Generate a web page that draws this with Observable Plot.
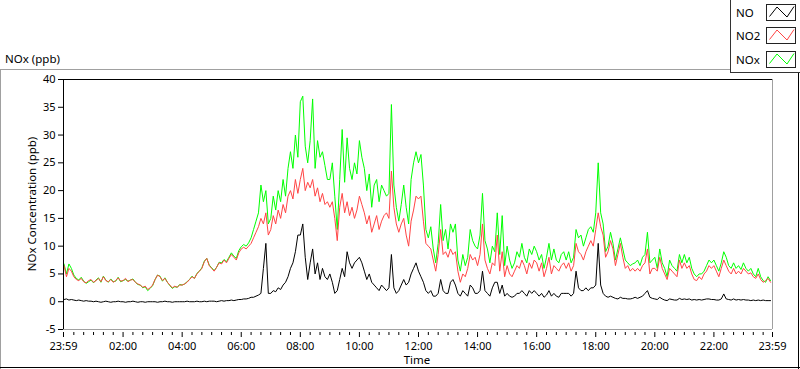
<!DOCTYPE html>
<html><head><meta charset="utf-8">
<script src="https://cdn.jsdelivr.net/npm/d3@7"></script>
<script src="https://cdn.jsdelivr.net/npm/@observablehq/plot@0.6"></script>
<style>
html,body{margin:0;padding:0;background:#fff;}
#chart{position:relative;width:800px;height:369px;overflow:hidden;}
</style></head><body><div id="chart"></div>
<script>
// 5-minute samples from 00:00 to 23:55
const timeStepMinutes = 5;

const no2 = [
 6.5,4.5,6.0,5.5,4.5,4.0,3.8,4.2,3.6,3.4,3.8,4.0,
 3.5,3.8,4.2,3.6,4.5,3.8,3.6,4.0,3.5,3.8,4.3,3.7,
 3.8,4.2,3.6,3.9,4.0,3.5,3.2,3.0,2.6,2.8,2.2,2.5,
 3.0,4.0,4.8,4.5,3.8,4.2,3.5,3.0,2.5,2.8,2.6,3.0,
 3.0,3.2,3.5,4.0,4.5,4.2,5.0,5.5,6.0,7.2,7.8,6.5,
 6.0,5.5,6.2,7.0,6.8,7.5,7.0,7.8,8.5,8.0,7.5,8.8,
 9.5,9.8,9.5,10.0,10.5,11.5,12.5,13.5,15.0,14.0,16.0,12.0,
 13.0,15.5,14.0,16.5,15.0,17.5,16.0,19.0,20.0,18.5,22.0,19.5,
 22.0,24.0,20.0,21.5,20.5,22.0,19.0,20.5,18.0,19.5,17.5,18.0,
 17.0,18.0,15.0,11.0,17.0,19.5,16.0,18.0,15.5,17.0,15.0,16.5,
 19.0,17.5,16.0,14.0,15.5,12.5,14.0,15.5,13.0,14.5,15.5,16.0,
 15.0,23.5,17.0,14.0,12.5,14.0,15.0,12.0,10.0,14.5,16.5,19.0,
 18.5,19.0,14.5,10.5,10.0,9.5,7.5,5.5,8.5,13.0,8.5,9.0,
 8.0,9.5,8.5,9.0,5.5,3.5,5.0,4.5,6.0,8.5,7.5,8.0,
 6.5,8.5,14.0,7.5,6.0,5.0,7.0,6.5,12.0,5.5,9.0,4.5,
 6.5,5.0,4.5,5.5,6.5,6.0,7.5,6.5,5.0,7.0,6.0,7.5,
 7.0,5.5,7.0,4.5,6.0,8.0,5.0,6.5,6.0,5.5,6.5,7.0,
 6.0,7.0,5.5,6.5,10.5,9.0,8.5,7.5,9.0,10.0,11.0,10.0,
 13.0,16.0,13.5,12.0,8.0,9.0,11.0,9.5,6.5,8.5,10.5,8.0,
 6.0,6.5,5.5,6.0,5.5,6.0,5.5,6.5,7.0,9.5,5.0,6.0,
 6.0,5.5,8.0,6.0,5.0,4.0,6.0,5.5,5.0,4.5,7.5,6.0,
 7.0,6.0,6.5,5.0,4.0,3.8,4.5,4.0,5.0,5.5,6.5,6.0,
 6.5,5.5,4.5,6.0,7.5,6.5,5.5,5.0,6.0,5.0,5.5,5.0,
 6.0,5.5,5.0,5.2,4.5,4.2,5.0,4.0,3.5,3.8,4.2,3.5
];

const nox = [
 6.8,5.0,6.8,6.0,4.8,4.2,3.9,4.4,3.7,3.3,3.6,3.9,
 3.4,3.9,4.3,3.5,4.6,3.9,3.5,4.1,3.6,3.7,4.4,3.6,
 3.8,4.0,3.7,3.9,4.1,3.5,3.1,3.0,2.5,2.7,2.0,2.4,
 2.9,4.0,4.8,4.6,3.7,4.3,3.5,2.9,2.4,2.7,2.6,3.1,
 3.0,3.2,3.6,4.0,4.6,4.2,5.1,5.5,6.1,7.3,7.8,6.6,
 6.1,5.6,6.2,7.1,7.0,7.6,7.2,8.0,8.8,8.2,7.8,9.2,
 9.9,10.3,10.0,10.6,11.5,13.0,14.5,16.0,21.0,18.0,20.0,14.0,
 15.0,19.0,16.5,20.0,18.0,22.0,19.0,24.0,27.0,24.0,30.0,26.0,
 36.0,37.0,28.0,25.0,29.0,36.5,24.0,29.0,26.0,27.0,24.5,22.0,
 22.0,25.0,19.0,13.0,22.0,31.0,21.5,29.5,24.0,22.0,25.0,23.0,
 29.0,26.0,24.0,20.0,23.0,17.0,21.0,22.0,18.0,21.0,20.0,19.0,
 19.5,35.5,21.0,17.0,14.5,17.5,21.0,17.0,14.0,22.0,25.0,27.0,
 25.0,26.5,21.0,13.0,11.5,13.5,9.5,7.0,10.5,17.5,11.0,13.0,
 9.5,14.0,12.5,14.0,7.5,5.5,8.5,6.5,8.0,13.0,11.0,10.0,
 9.5,12.0,19.5,11.0,9.5,7.0,10.0,9.0,16.0,8.5,15.5,6.5,
 10.0,7.5,6.0,7.0,9.0,8.0,10.5,8.0,7.0,9.5,8.5,10.0,
 9.0,7.5,8.5,6.0,8.0,10.5,7.5,9.5,7.5,7.0,8.5,9.0,
 7.5,9.0,7.0,8.0,13.0,11.5,12.0,10.0,11.5,13.0,13.5,12.5,
 16.0,25.0,16.0,14.0,9.0,10.0,12.5,10.5,7.5,9.5,11.5,9.5,
 7.5,7.0,6.5,6.8,7.0,7.5,6.5,8.0,8.5,12.5,7.0,7.5,
 8.0,6.0,9.5,7.0,6.0,4.5,7.5,6.5,6.0,5.5,8.5,7.0,
 8.5,7.0,8.0,6.0,5.0,4.5,5.0,5.0,5.5,6.5,7.5,7.0,
 7.5,6.5,5.5,7.0,9.0,8.0,6.5,6.0,7.0,6.0,6.5,5.8,
 7.0,6.0,5.5,6.0,5.0,4.5,6.0,4.5,3.8,3.5,4.5,3.8
];

const no = [
 0.4,0.5,0.3,0.4,0.3,0.2,0.3,0.2,0.1,0.2,0.1,0.1,
 0.0,0.1,0.0,-0.1,0.0,0.1,0.0,-0.1,0.0,0.0,0.1,0.0,
 0.0,-0.1,0.0,0.0,0.1,0.0,-0.1,0.0,0.0,-0.1,0.0,0.0,
 0.0,0.0,-0.1,0.0,0.0,0.1,0.0,0.0,-0.1,0.0,0.0,0.0,
 0.0,0.0,0.1,0.0,0.0,0.0,0.1,0.0,0.0,0.1,0.0,0.1,
 0.1,0.1,0.0,0.1,0.2,0.1,0.2,0.2,0.3,0.2,0.3,0.4,
 0.4,0.5,0.5,0.6,0.8,0.8,1.0,1.2,1.5,6.0,10.5,1.5,
 1.5,2.0,1.8,2.5,2.2,3.0,3.5,4.5,6.0,7.0,9.0,12.0,
 12.0,14.0,8.0,4.0,7.0,9.5,5.0,7.0,4.0,6.0,4.5,4.0,
 5.0,3.5,1.5,2.0,4.0,6.0,4.5,9.0,7.0,6.0,7.0,7.5,
 8.0,7.0,5.5,4.0,5.0,3.5,3.0,2.5,2.0,3.0,2.5,2.0,
 2.5,8.5,2.5,1.5,2.0,3.0,4.0,3.0,3.5,5.0,6.0,7.0,
 5.5,4.5,3.5,2.0,1.5,2.0,1.0,1.0,1.5,4.0,2.0,1.5,
 1.5,3.5,4.0,3.0,1.5,1.0,2.0,1.5,1.0,3.0,2.5,1.5,
 1.5,2.0,5.5,2.0,1.5,1.0,2.5,3.5,3.5,1.5,3.0,1.0,
 1.5,1.0,0.8,1.0,1.5,1.5,2.0,1.5,1.0,2.0,1.5,2.0,
 1.5,1.0,1.5,0.8,1.2,2.0,1.0,1.5,1.0,0.8,1.5,1.5,
 1.5,1.5,1.0,1.5,5.5,2.5,2.0,2.0,2.5,2.0,2.5,2.5,
 3.0,10.5,3.0,1.5,1.0,0.8,1.0,0.8,0.6,0.5,0.8,0.6,
 0.6,0.5,0.5,0.6,0.8,0.6,0.8,1.0,1.5,2.0,0.8,0.6,
 0.5,0.4,0.8,0.5,0.3,0.2,0.5,0.4,0.3,0.3,0.6,0.4,
 0.5,0.4,0.5,0.3,0.4,0.3,0.4,0.3,0.4,0.5,0.5,0.4,
 0.4,0.3,0.3,0.5,1.4,0.5,0.4,0.3,0.5,0.3,0.4,0.3,
 0.4,0.3,0.3,0.2,0.3,0.2,0.3,0.2,0.3,0.2,0.2,0.2
];

const xTickValues = [-1,120,240,360,480,600,720,840,960,1080,1200,1320,1439];
const xTickLabels = ["23:59","02:00","04:00","06:00","08:00","10:00","12:00","14:00","16:00","18:00","20:00","22:00","23:59"];
const xMinorTicks = [20,40,60,80,100,140,160,180,200,220,260,280,300,320,340,380,400,420,440,460,500,520,540,560,580,620,640,660,680,700,740,760,780,800,820,860,880,900,920,940,980,1000,1020,1040,1060,1100,1120,1140,1160,1180,1220,1240,1260,1280,1300,1340,1360,1380,1400,1420];
const yTicks = [-5,0,5,10,15,20,25,30,35,40];
const seriesNames = ["NO","NO2","NOx"];
const seriesColors = ["#000000","#ff4444","#00ff00"];
const chartTitle = "NOx (ppb)";
const yLabel = "NOx Concentration (ppb)";
const xLabel = "Time";

const rowsFor = (arr) => arr.map((v, i) => ({t: i * timeStepMinutes, v}));
const noRows = rowsFor(no), no2Rows = rowsFor(no2), noxRows = rowsFor(nox);

const FONT = "'Noto Sans', 'Open Sans', sans-serif";

const chart = Plot.plot({
  width: 800, height: 369,
  marginLeft: 63, marginRight: 28, marginTop: 79, marginBottom: 40,
  style: {fontFamily: FONT, fontSize: "11px", background: "white", color: "black", overflow: "visible"},
  x: {type: "linear", domain: [-1, 1439]},
  y: {domain: [-5, 40]},
  marks: [
    Plot.ruleY([-5], {stroke: "#a0a0a0"}),
    Plot.ruleX([1439], {stroke: "#a0a0a0"}),
    Plot.lineY(noxRows, {x: "t", y: "v", stroke: seriesColors[2], strokeWidth: 1}),
    Plot.lineY(no2Rows, {x: "t", y: "v", stroke: seriesColors[1], strokeWidth: 1}),
    Plot.lineY(noRows, {x: "t", y: "v", stroke: seriesColors[0], strokeWidth: 1}),
    Plot.ruleX([-1], {stroke: "black"}),
    Plot.ruleY([40], {stroke: "black"}),
    Plot.axisY({ticks: yTicks, tickSize: 5, tickPadding: 3, label: null, tickFormat: d => String(d)}),
    Plot.axisX({ticks: xTickValues, tickSize: 5, tickPadding: 5, dy: 3, label: null,
      tickFormat: d => xTickLabels[xTickValues.indexOf(d)]}),
    Plot.axisX({ticks: xMinorTicks, tickSize: 3, dy: 3, label: null, tickFormat: () => ""})
  ]
});

document.getElementById("chart").appendChild(chart);
const svg = d3.select(chart);

// outer panel frame
const g = svg.append("g").attr("shape-rendering", "crispEdges");
g.append("line").attr("x1", 0).attr("x2", 800).attr("y1", 69.5).attr("y2", 69.5).attr("stroke", "#a0a0a0");
g.append("line").attr("x1", 0.5).attr("x2", 0.5).attr("y1", 69).attr("y2", 369).attr("stroke", "#a0a0a0");
g.append("line").attr("x1", 0).attr("x2", 800).attr("y1", 367.5).attr("y2", 367.5).attr("stroke", "#000");
g.append("line").attr("x1", 798.5).attr("x2", 798.5).attr("y1", 69).attr("y2", 369).attr("stroke", "#000");

// title & axis labels
svg.append("text").attr("x", 5).attr("y", 63).attr("text-anchor", "start").attr("font-family", FONT).attr("font-size", 11.5).text(chartTitle);
svg.append("text").attr("x", 417).attr("y", 364).attr("text-anchor", "middle").attr("font-family", FONT).attr("font-size", 11.5).text(xLabel);
svg.append("text").attr("transform", "translate(36,204) rotate(-90)").attr("text-anchor", "middle").attr("font-family", FONT).attr("font-size", 11.5).text(yLabel);

// legend
const lg = svg.append("g");
lg.append("rect").attr("x", 730.5).attr("y", -1).attr("width", 70).attr("height", 73.5).attr("fill", "white").attr("stroke", "#333").attr("shape-rendering", "crispEdges");
seriesNames.forEach((name, i) => {
  const y0 = 4 + i * 23.3;
  lg.append("text").attr("x", 736).attr("y", y0 + 13).attr("text-anchor", "start").attr("font-family", FONT).attr("font-size", 11.5).text(name);
  lg.append("rect").attr("x", 766.5).attr("y", Math.round(y0) + 0.5).attr("width", 29).attr("height", 16).attr("fill", "white").attr("stroke", "#222").attr("shape-rendering", "crispEdges");
  const bx = 767, by = Math.round(y0);
  lg.append("polyline").attr("points", [[bx+2.5,by+12.5],[bx+10,by+3],[bx+20,by+13],[bx+27,by+2.5]].map(p => p.join(",")).join(" "))
    .attr("fill", "none").attr("stroke", seriesColors[i]).attr("stroke-width", 1);
});
</script>
</body></html>
